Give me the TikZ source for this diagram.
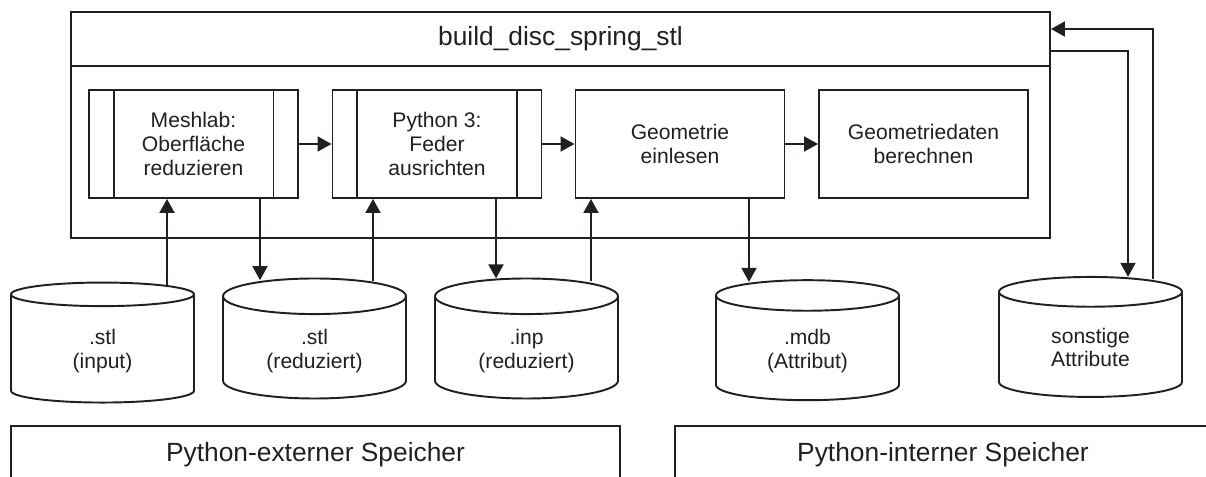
\documentclass[tikz,border=0pt]{standalone}
\usepackage{fontspec}
\setmainfont{Liberation Sans}
\usetikzlibrary{arrows.meta,positioning,shapes.geometric}
\definecolor{ink}{HTML}{231F20}
\begin{document}
\begin{tikzpicture}[line width=1.1pt,color=ink,
every node/.style={draw,align=center,font=\fontsize{12}{13.6}\selectfont},
proc/.style={rectangle,minimum width=4.18cm,minimum height=2.16cm},
store/.style={cylinder,shape border rotate=90,aspect=0.33,minimum width=3.66cm,minimum height=2.4cm},
big/.style={rectangle,font=\fontsize{15}{18}\selectfont},
arr/.style={-{Triangle[length=0.28cm,width=0.3cm]}}]
\useasboundingbox (0,0) rectangle (24.12,9.52);
\node[big,minimum width=19.58cm,minimum height=1.08cm] (T) at (11.21,8.74) {build\_disc\_spring\_stl};
\node[rectangle,minimum width=19.58cm,minimum height=3.44cm] (F) at (11.21,6.48) {};
\node[proc] (P1) at (3.87,6.64) {Meshlab:\\Oberfläche\\reduzieren};
\node[proc] (P2) at (8.74,6.64) {Python 3:\\Feder\\ausrichten};
\node[proc] (P3) at (13.60,6.64) {Geometrie\\einlesen};
\node[proc] (P4) at (18.47,6.64) {Geometriedaten\\berechnen};
\foreach \p in {P1,P2}{
\draw ([xshift=0.51cm]\p.north west) -- ([xshift=0.51cm]\p.south west);
\draw ([xshift=-0.51cm]\p.north east) -- ([xshift=-0.51cm]\p.south east);}
\node[store] (S1) at (2.05,2.50) {.stl\\(input)};
\node[store] (S2) at (6.29,2.50) {.stl\\(reduziert)};
\node[store] (S3) at (10.53,2.50) {.inp\\(reduziert)};
\node[store] (S4) at (16.15,2.50) {.mdb\\(Attribut)};
\node[store] (S5) at (21.81,2.57) {sonstige\\Attribute};
\node[big,minimum width=12.18cm,minimum height=1.16cm] (M1) at (6.31,0.42) {Python-externer Speicher};
\node[big,minimum width=10.72cm,minimum height=1.16cm] (M2) at (18.86,0.42) {Python-interner Speicher};
\draw[arr] (P1)--(P2);
\draw[arr] (P2)--(P3);
\draw[arr] (P3)--(P4);
\draw[arr,shorten <=-2pt] (S1.north -| 3.34,0) -- (P1.south -| 3.34,0);
\draw[arr,shorten >=-1.5pt] (P1.south -| 5.20,0) -- (S2.north -| 5.20,0);
\draw[arr,shorten <=-2pt] (S2.north -| 7.46,0) -- (P2.south -| 7.46,0);
\draw[arr,shorten >=-0.5pt] (P2.south -| 9.92,0) -- (S3.north -| 9.92,0);
\draw[arr,shorten <=-2pt] (S3.north -| 11.82,0) -- (P3.south -| 11.82,0);
\draw[arr,shorten >=-1.5pt] (P3.south -| 14.98,0) -- (S4.north -| 14.98,0);
\draw[arr,shorten >=-0.5pt] (T.east |- 0,8.50) -| (S5.north -| 22.56,0);
\draw[arr,shorten <=-2pt] (S5.north -| 23.06,0) |- (T.east |- 0,8.94);
\end{tikzpicture}
\end{document}
